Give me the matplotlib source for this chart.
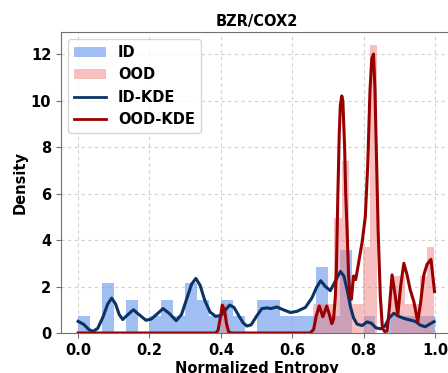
import numpy as np
import matplotlib
matplotlib.use("Agg")
from matplotlib import pyplot as plt
from matplotlib.patches import Patch
from matplotlib.lines import Line2D

# histogram densities
id_edges = np.linspace(0.0, 1.0, 31)
id_density = [0.71, 0, 2.14, 0, 1.43, 0, 0.71, 1.43, 0.71, 2.14,
              1.43, 0.71, 1.43, 0.71, 0, 1.43, 1.43, 0.71, 0.71, 0.71,
              2.86, 0.71, 3.57, 0, 0.71, 0, 0.71, 0.71, 0.71, 0.71]

ood_edges = 0.400 + 0.0199 * np.arange(31)
ood_density = [1.23, 0, 0, 0, 0, 0, 0, 0, 0, 0,
               0, 0, 0, 1.23, 1.23, 1.23, 4.94, 7.41, 1.23, 1.23,
               3.70, 12.37, 0, 0, 2.47, 2.47, 1.23, 1.23, 2.47, 3.70]

# KDE curves
id_kde_x = [0.000, 0.015, 0.030, 0.042, 0.055, 0.070, 0.083, 0.094, 0.105, 0.115,
            0.125, 0.140, 0.155, 0.170, 0.190, 0.205, 0.220, 0.238, 0.255, 0.275,
            0.290, 0.305, 0.318, 0.330, 0.342, 0.355, 0.370, 0.385, 0.400, 0.412,
            0.425, 0.437, 0.450, 0.462, 0.473, 0.485, 0.500, 0.515, 0.530, 0.540,
            0.557, 0.575, 0.595, 0.613, 0.637, 0.655, 0.668, 0.680, 0.693, 0.707,
            0.720, 0.735, 0.745, 0.755, 0.763, 0.772, 0.782, 0.796, 0.810, 0.822,
            0.835, 0.848, 0.860, 0.872, 0.885, 0.898, 0.915, 0.930, 0.945, 0.960,
            0.973, 0.985, 0.998]
id_kde_y = [0.50, 0.38, 0.15, 0.07, 0.20, 0.70, 1.25, 1.50, 1.25, 0.80,
            0.58, 0.80, 1.00, 0.80, 0.55, 0.60, 0.80, 1.05, 0.85, 0.53,
            0.80, 1.50, 2.10, 2.35, 2.05, 1.40, 0.90, 0.72, 0.75, 0.98,
            1.20, 1.10, 0.75, 0.45, 0.30, 0.35, 0.72, 1.05, 1.08, 1.05,
            1.12, 1.00, 0.88, 0.93, 1.10, 1.50, 1.95, 2.25, 2.00, 1.82,
            2.20, 2.65, 2.45, 1.80, 1.15, 0.65, 0.38, 0.32, 0.48, 0.42,
            0.22, 0.18, 0.30, 0.65, 0.85, 0.72, 0.62, 0.56, 0.50, 0.33,
            0.27, 0.38, 0.49]

ood_kde_x = [0.000, 0.385, 0.392, 0.398, 0.404, 0.410, 0.416, 0.422, 0.430, 0.650,
             0.660, 0.668, 0.676, 0.686, 0.697, 0.706, 0.711, 0.716, 0.721, 0.724,
             0.728, 0.732, 0.735, 0.739, 0.742, 0.747, 0.750, 0.754, 0.758, 0.762,
             0.766, 0.772, 0.778, 0.786, 0.796, 0.805, 0.812, 0.818, 0.823, 0.828,
             0.832, 0.836, 0.841, 0.847, 0.853, 0.860, 0.866, 0.872, 0.880, 0.888,
             0.896, 0.904, 0.913, 0.922, 0.931, 0.941, 0.952, 0.960, 0.969, 0.978,
             0.989, 0.999]
ood_kde_y = [0.0, 0.0, 0.1, 0.6, 1.2, 1.0, 0.4, 0.05, 0.0, 0.0,
             0.15, 0.77, 1.16, 0.70, 1.16, 0.70, 0.40, 0.60, 1.56, 2.80,
             5.9, 8.6, 9.8, 10.2, 10.0, 8.0, 6.0, 4.4, 2.5, 1.6,
             1.45, 2.45, 2.30, 3.0, 3.9, 5.0, 7.3, 10.4, 11.8, 12.0,
             10.5, 7.8, 4.4, 1.6, 0.2, 0.05, 0.1, 1.0, 2.5, 1.7,
             0.77, 2.0, 3.0, 2.5, 1.85, 1.35, 0.49, 1.3, 2.5, 2.95,
             3.17, 1.78]

id_color = '#6495ED'
ood_color = 'lightcoral'
id_line = '#0a3466'
ood_line = '#990000'

fig = plt.figure(figsize=(4.48, 3.73), dpi=100)
ax = fig.add_axes([61/448, 40/373, 391/448, 301/373])

ax.bar(id_edges[:-1], id_density, width=np.diff(id_edges), align='edge',
       color=id_color, alpha=0.6, linewidth=0)
ax.bar(ood_edges[:-1], ood_density, width=np.diff(ood_edges), align='edge',
       color=ood_color, alpha=0.5, linewidth=0)
ax.plot(id_kde_x, id_kde_y, color=id_line, lw=2.2, solid_joinstyle='round')
ax.plot(ood_kde_x, ood_kde_y, color=ood_line, lw=2.2, solid_joinstyle='round')

ax.set_xlim(-0.048, 1.048)
ax.set_ylim(0, 12.95)
ax.set_xticks([0.0, 0.2, 0.4, 0.6, 0.8, 1.0])
ax.set_yticks([0, 2, 4, 6, 8, 10, 12])
ax.grid(True, linestyle=(0, (3, 3)), color='#d0d0d0', linewidth=0.8)
ax.set_axisbelow(True)
for s in ax.spines.values():
    s.set_color('#707070')
ax.tick_params(colors='#707070', labelcolor='black')
for lab in ax.get_xticklabels() + ax.get_yticklabels():
    lab.set_fontweight('bold')
    lab.set_fontsize(10.5)

ax.set_title('BZR/COX2', fontsize=10.5, fontweight='bold', pad=4)
ax.set_xlabel('Normalized Entropy', fontsize=10.5, fontweight='bold', labelpad=2)
ax.set_ylabel('Density', fontsize=10.5, fontweight='bold', labelpad=2)

handles = [Patch(color=id_color, alpha=0.6, linewidth=0),
           Patch(color=ood_color, alpha=0.5, linewidth=0),
           Line2D([], [], color=id_line, lw=2),
           Line2D([], [], color=ood_line, lw=2)]
ax.legend(handles, ['ID', 'OOD', 'ID-KDE', 'OOD-KDE'], loc='upper left',
          prop={'weight': 'bold', 'size': 10.5}, handlelength=2.2)

fig.savefig('out.png', dpi=100)
